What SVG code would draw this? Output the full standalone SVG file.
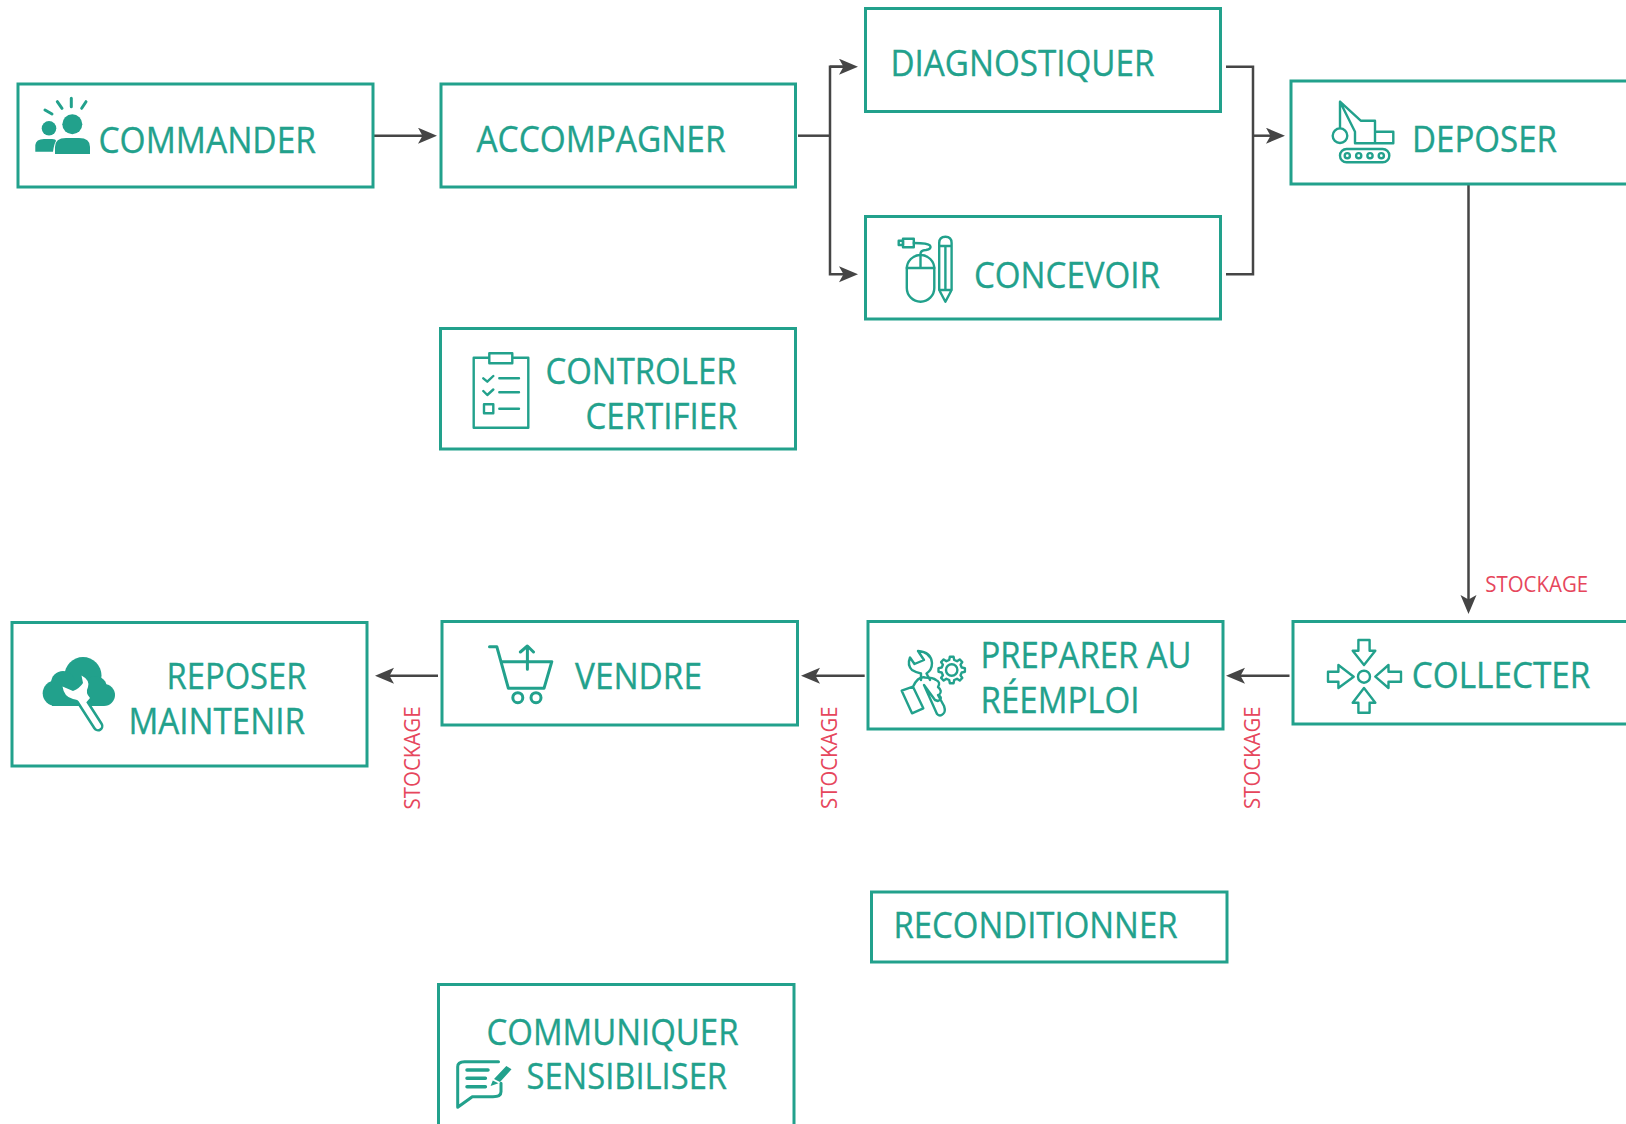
<svg xmlns="http://www.w3.org/2000/svg" width="1626" height="1124" viewBox="0 0 1626 1124">
<style>
.box{fill:#fff;stroke:#22a18c;stroke-width:3}
.t{font-family:"Open Sans","Liberation Sans",sans-serif;font-size:36px;fill:#22a18c;stroke:#22a18c;stroke-width:.35}
.s{font-family:"Open Sans","Liberation Sans",sans-serif;font-size:21px;fill:#e6465c}
.i{fill:none;stroke:#22a18c;stroke-width:2.4;stroke-linejoin:round;stroke-linecap:round}
.f{fill:#22a18c;stroke:none}
.c{fill:none;stroke:#454545;stroke-width:2.5}
</style>
<defs>
<marker id="ah" markerUnits="userSpaceOnUse" markerWidth="22" markerHeight="18" refX="10" refY="8" orient="auto">
<path d="M0,0 L19,8 L0,16 L4.500,8 Z" fill="#454545"/>
</marker>
</defs>
<rect width="1626" height="1124" fill="#fff"/>
<g id="connectors">
<path class="c" d="M373,135.700 H428" marker-end="url(#ah)"/>
<path class="c" d="M798,135.700 H830"/>
<path class="c" d="M849,66.700 H830 V274.300 H849" marker-end="url(#ah)"/>
<path class="c" d="M830,66.700 H849" marker-end="url(#ah)"/>
<path class="c" d="M1226,66.700 H1253 V274.300 H1226"/>
<path class="c" d="M1253,135.700 H1276" marker-end="url(#ah)"/>
<path class="c" d="M1468.500,184 V605" marker-end="url(#ah)"/>
<path class="c" d="M1289.500,675.700 H1235" marker-end="url(#ah)"/>
<path class="c" d="M864.700,675.700 H810" marker-end="url(#ah)"/>
<path class="c" d="M438,675.700 H384" marker-end="url(#ah)"/>
</g>
<g id="node-commander">
<rect class="box" x="18" y="84" width="355" height="103"/>
<path class="i" stroke-width="3" style="stroke-width:3" d="M45,110 L52,114 M57.300,101.700 L62,108.300 M71.300,98.300 V106.700 M86,101.700 L81.700,108.300"/>
<circle class="f" cx="49" cy="128.300" r="7.300"/>
<path class="f" d="M35.300,151.700 V145 Q36,139 44,139 H52 Q56,139 56,141 Q54,144 53,151.700 Z"/>
<circle class="f" cx="72.300" cy="124.300" r="10"/>
<path class="f" d="M55,154 V147 Q55,138 66,138 H79 Q90,138 90,147 V154 Z"/>
<text class="t" x="98.500" y="152.500" textLength="217.500" lengthAdjust="spacingAndGlyphs">COMMANDER</text>
</g>
<g id="node-accompagner">
<rect class="box" x="441" y="84" width="354.500" height="103"/>
<text class="t" x="476.500" y="152" textLength="249" lengthAdjust="spacingAndGlyphs">ACCOMPAGNER</text>
</g>
<g id="node-diagnostiquer">
<rect class="box" x="865.500" y="8.500" width="355" height="103"/>
<text class="t" x="890.500" y="75.500" textLength="264" lengthAdjust="spacingAndGlyphs">DIAGNOSTIQUER</text>
</g>
<g id="node-concevoir">
<rect class="box" x="865.500" y="216.500" width="355" height="102.500"/>
<rect class="i" x="906.800" y="255" width="27.500" height="46.700" rx="13.700"/>
<path class="i" d="M906.800,268 H934.300 M920.500,255 V268 M920.500,255 Q920,250 926,250 Q932,249 930,245.500 Q928,243 913.800,243"/>
<rect class="i" x="903" y="238.700" width="10.800" height="8.600"/>
<rect class="i" x="898.700" y="240.700" width="4.300" height="4.300"/>
<path class="i" d="M939.200,290 V243 Q939.200,236.700 945.400,236.700 Q951.600,236.700 951.600,243 V290 L945.400,301.700 Z M939.200,246 H951.600 M939.200,290 H951.600 M945.400,246 V290"/>
<text class="t" x="974" y="288" textLength="186" lengthAdjust="spacingAndGlyphs">CONCEVOIR</text>
</g>
<g id="node-deposer">
<rect class="box" x="1291" y="81" width="340" height="103"/>
<path class="i" d="M1340,101.700 V128 M1340,101.700 L1360.700,120.700 H1375 V143.300 H1355 V131.700 Z M1375,131.700 H1393.300 V143.300 H1375"/>
<circle class="i" cx="1340" cy="135.700" r="7.300"/>
<rect class="i" x="1340" y="149" width="49.300" height="13.300" rx="6.600"/>
<circle class="i" cx="1347.300" cy="155.700" r="2.600"/>
<circle class="i" cx="1358.700" cy="155.700" r="2.600"/>
<circle class="i" cx="1370" cy="155.700" r="2.600"/>
<circle class="i" cx="1381.300" cy="155.700" r="2.600"/>
<text class="t" x="1412" y="151.500" textLength="145" lengthAdjust="spacingAndGlyphs">DEPOSER</text>
</g>
<g id="node-controler">
<rect class="box" x="440.500" y="328.500" width="355" height="120.500"/>
<rect class="i" stroke-linecap="butt" x="473.700" y="357.700" width="54.600" height="70"/>
<rect class="i" x="489.300" y="353.300" width="23" height="10" style="fill:#fff"/>
<path class="i" d="M483.300,378.300 L487.300,381.700 L493.300,376 M499.300,378.300 H519 M483.300,391 L487.300,395 L493.300,389.500 M499.300,392.300 H519 M499.300,408.700 H519"/>
<rect class="i" x="484" y="404.300" width="9.300" height="9"/>
<text class="t" x="545.500" y="383.500" textLength="191" lengthAdjust="spacingAndGlyphs">CONTROLER</text>
<text class="t" x="585.500" y="428.500" textLength="152" lengthAdjust="spacingAndGlyphs">CERTIFIER</text>
</g>
<g id="node-reposer">
<rect class="box" x="12" y="622.500" width="355" height="143.500"/>
<circle class="f" cx="55.500" cy="693.300" r="12.800"/>
<circle class="f" cx="83" cy="675.500" r="18.500"/>
<circle class="f" cx="63" cy="683" r="12"/>
<circle class="f" cx="95" cy="688" r="12"/>
<circle class="f" cx="104" cy="695" r="11"/>
<rect class="f" x="52" y="680" width="52" height="26"/>
<path d="M80,698 L98,726" fill="none" stroke="#22a18c" stroke-width="11" stroke-linecap="round"/>
<path d="M80,698 L98,726" fill="none" stroke="#fff" stroke-width="6" stroke-linecap="round"/>
<path fill="#fff" d="M62.500,686.500 Q64,697 73,699 Q80,700 84,705 L90,698 Q85,693 88,687 Q90,680 81.500,675.500 L83,683 Q80,688 73,691 Z"/>
<text class="t" x="166.500" y="689" textLength="140" lengthAdjust="spacingAndGlyphs">REPOSER</text>
<text class="t" x="128.500" y="734" textLength="176.500" lengthAdjust="spacingAndGlyphs">MAINTENIR</text>
</g>
<g id="node-vendre">
<rect class="box" x="442" y="621.500" width="355.500" height="103.500"/>
<path class="i" style="stroke-width:3" d="M489.500,646.700 H496.800 L508.400,688.300 H544 L551.800,661.700 H501 M527.400,669.300 V647 M520.400,652 L527.400,646 L533.500,652"/>
<circle class="i" style="stroke-width:3" cx="517.800" cy="697.700" r="5"/>
<circle class="i" style="stroke-width:3" cx="536" cy="697.700" r="5"/>
<text class="t" x="575" y="689" textLength="127" lengthAdjust="spacingAndGlyphs">VENDRE</text>
</g>
<g id="node-preparer">
<rect class="box" x="868" y="621.500" width="355" height="107.500"/>
<path class="i" d="M918,651 L924,660 L914.500,664 L910,657.500 Q907,665 912,670 Q917,673 921,673.500 L921,680 M918,651 Q931,652 932,663 Q932,670 926.500,673.500 L930,680"/>
<path class="i" transform="translate(951.700,670)" d="M10,-2.500 L13.200,-1.850 L13.200,1.850 L10,2.500 L8.830,5.300 L10.600,8 L8,10.600 L5.300,8.830 L2.500,10 L1.850,13.200 L-1.850,13.200 L-2.500,10 L-5.300,8.830 L-8,10.600 L-10.600,8 L-8.830,5.300 L-10,2.500 L-13.200,1.850 L-13.200,-1.850 L-10,-2.500 L-8.830,-5.300 L-10.600,-8 L-8,-10.600 L-5.300,-8.830 L-2.500,-10 L-1.850,-13.200 L1.850,-13.200 L2.500,-10 L5.300,-8.830 L8,-10.600 L10.600,-8 L8.830,-5.300 Z"/>
<circle class="i" cx="951.700" cy="670" r="5.700"/>
<path class="i" d="M901.700,690.700 L913,686.700 L923.300,708.300 L912,713.300 Z M913,686.700 Q918,676 925,677.500 Q933,677.500 936,680 Q941,682 938,687 Q943,691 939,695 Q943,699 938,701 L935,700 L924,685 L937,714 Q940,717 943,714 Q946,712 944,706 L938,695"/>
<text class="t" x="980.500" y="668" textLength="211" lengthAdjust="spacingAndGlyphs">PREPARER AU</text>
<text class="t" x="980.500" y="712.500" textLength="159" lengthAdjust="spacingAndGlyphs">RÉEMPLOI</text>
</g>
<g id="node-collecter">
<rect class="box" x="1293" y="621.500" width="338" height="102.500"/>
<ellipse class="i" cx="1364" cy="676.700" rx="6" ry="6"/>
<path class="i" d="M1358.400,640 H1369.600 V650.700 H1375.300 L1364,665 L1352.700,650.700 H1358.400 Z"/>
<path class="i" d="M1358.400,712.700 H1369.600 V702.700 H1375.300 L1364,688 L1352.700,702.700 H1358.400 Z"/>
<path class="i" d="M1328,671.700 H1338.400 V665 L1353.700,676.700 L1338.400,688 V681.700 H1328 Z"/>
<path class="i" d="M1401,671.700 H1388.500 V665 L1375.300,676.700 L1388.500,688 V681.700 H1401 Z"/>
<text class="t" x="1411.800" y="688" textLength="178.500" lengthAdjust="spacingAndGlyphs">COLLECTER</text>
</g>
<g id="node-reconditionner">
<rect class="box" x="871.500" y="892" width="355.500" height="70"/>
<text class="t" x="893.500" y="938" textLength="284" lengthAdjust="spacingAndGlyphs">RECONDITIONNER</text>
</g>
<g id="node-communiquer">
<rect class="box" x="438.500" y="984.500" width="355.500" height="150"/>
<path class="i" style="stroke-width:3" d="M498.500,1061.700 H464.500 Q457.700,1061.700 457.700,1066.700 V1107.300 L472.300,1096.700 H493 Q501,1096.700 501,1091.700 V1083.300"/>
<path class="i" style="stroke-width:3.500" d="M467,1070 H488 M467,1078.300 H485.400 M467,1086.700 H485.400"/>
<path class="f" d="M506.300,1066 L511.500,1069.300 L500,1082 L494,1079 Z M492.800,1080.500 L498.500,1083.300 L490.600,1086 Z"/>
<text class="t" x="486.500" y="1044.500" textLength="252" lengthAdjust="spacingAndGlyphs">COMMUNIQUER</text>
<text class="t" x="526.500" y="1089" textLength="200.500" lengthAdjust="spacingAndGlyphs">SENSIBILISER</text>
</g>
<g id="stockage-labels">
<text class="s" x="1485.300" y="592" textLength="102.800" lengthAdjust="spacingAndGlyphs">STOCKAGE</text>
<text class="s" transform="translate(420,809.500) rotate(-90)" textLength="103" lengthAdjust="spacingAndGlyphs">STOCKAGE</text>
<text class="s" transform="translate(837,809) rotate(-90)" textLength="102.500" lengthAdjust="spacingAndGlyphs">STOCKAGE</text>
<text class="s" transform="translate(1260,809) rotate(-90)" textLength="102.500" lengthAdjust="spacingAndGlyphs">STOCKAGE</text>
</g>
</svg>
